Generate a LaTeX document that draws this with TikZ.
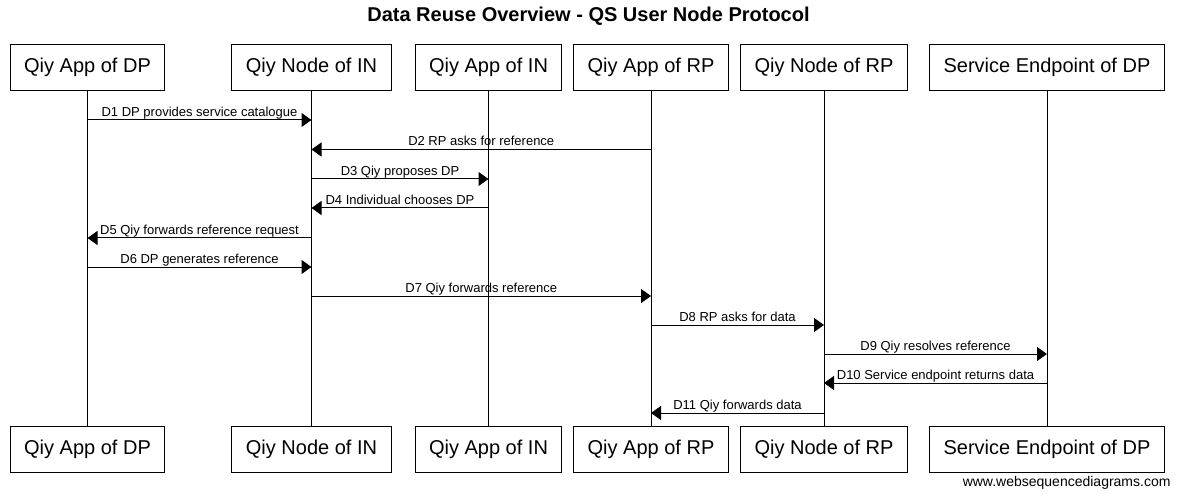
\documentclass[tikz,border=0pt]{standalone}
\usepackage{fontspec}
\setmainfont{Liberation Sans}
\usetikzlibrary{arrows.meta}

\begin{document}
\begin{tikzpicture}[x=1pt,y=-1pt,line width=1pt,
   actor/.style={draw,minimum height=46pt,inner xsep=14pt,inner ysep=0pt,
      font=\fontsize{20}{24}\selectfont},
   lifeline/.style={draw},
   msg/.style={-{Triangle[length=10pt,width=14pt]}},
   msgtext/.style={anchor=base,yshift=3.5pt,inner sep=0pt,
      font=\fontsize{13}{15}\selectfont}]
\useasboundingbox (0,0) rectangle (1177,494);

\node[anchor=base,font=\bfseries\fontsize{20}{24}\selectfont] (title) at (588.5,22)
   {Data Reuse Overview - QS User Node Protocol};

% participants, top row
\node[actor] (dp)  at (87.5,67.5)  {Qiy App of DP};
\node[actor] (in)  at (311.5,67.5) {Qiy Node of IN};
\node[actor] (ain) at (488.5,67.5) {Qiy App of IN};
\node[actor] (rp)  at (651,67.5)   {Qiy App of RP};
\node[actor] (nrp) at (824,67.5)   {Qiy Node of RP};
\node[actor] (se)  at (1047,67.5)  {Service Endpoint of DP};

% participants, bottom row
\node[actor] (dpB)  at (87.5,449)  {Qiy App of DP};
\node[actor] (inB)  at (311.5,449) {Qiy Node of IN};
\node[actor] (ainB) at (488.5,449) {Qiy App of IN};
\node[actor] (rpB)  at (651,449)   {Qiy App of RP};
\node[actor] (nrpB) at (824,449)   {Qiy Node of RP};
\node[actor] (seB)  at (1047,449)  {Service Endpoint of DP};

\draw[lifeline] (dp)  -- (dpB);
\draw[lifeline] (in)  -- (inB);
\draw[lifeline] (ain) -- (ainB);
\draw[lifeline] (rp)  -- (rpB);
\draw[lifeline] (nrp) -- (nrpB);
\draw[lifeline] (se)  -- (seB);

% messages
\draw[msg] (dp |- 0,120)  -- node[msgtext] {D1 DP provides service catalogue} (in |- 0,120);
\draw[msg] (rp |- 0,149.5) -- node[msgtext] {D2 RP asks for reference} (in |- 0,149.5);
\draw[msg] (in |- 0,179)  -- node[msgtext] {D3 Qiy proposes DP} (ain |- 0,179);
\draw[msg] (ain |- 0,208) -- node[msgtext] {D4 Individual chooses DP} (in |- 0,208);
\draw[msg] (in |- 0,238)  -- node[msgtext] {D5 Qiy forwards reference request} (dp |- 0,238);
\draw[msg] (dp |- 0,267)  -- node[msgtext] {D6 DP generates reference} (in |- 0,267);
\draw[msg] (in |- 0,296)  -- node[msgtext] {D7 Qiy forwards reference} (rp |- 0,296);
\draw[msg] (rp |- 0,325)  -- node[msgtext] {D8 RP asks for data} (nrp |- 0,325);
\draw[msg] (nrp |- 0,354) -- node[msgtext] {D9 Qiy resolves reference} (se |- 0,354);
\draw[msg] (se |- 0,383)  -- node[msgtext] {D10 Service endpoint returns data} (nrp |- 0,383);
\draw[msg] (nrp |- 0,413) -- node[msgtext] {D11 Qiy forwards data} (rp |- 0,413);

\node[anchor=base east,inner sep=0pt,font=\fontsize{14}{16}\selectfont] (wsd) at (1171,486)
   {www.websequencediagrams.com};
\end{tikzpicture}
\end{document}
